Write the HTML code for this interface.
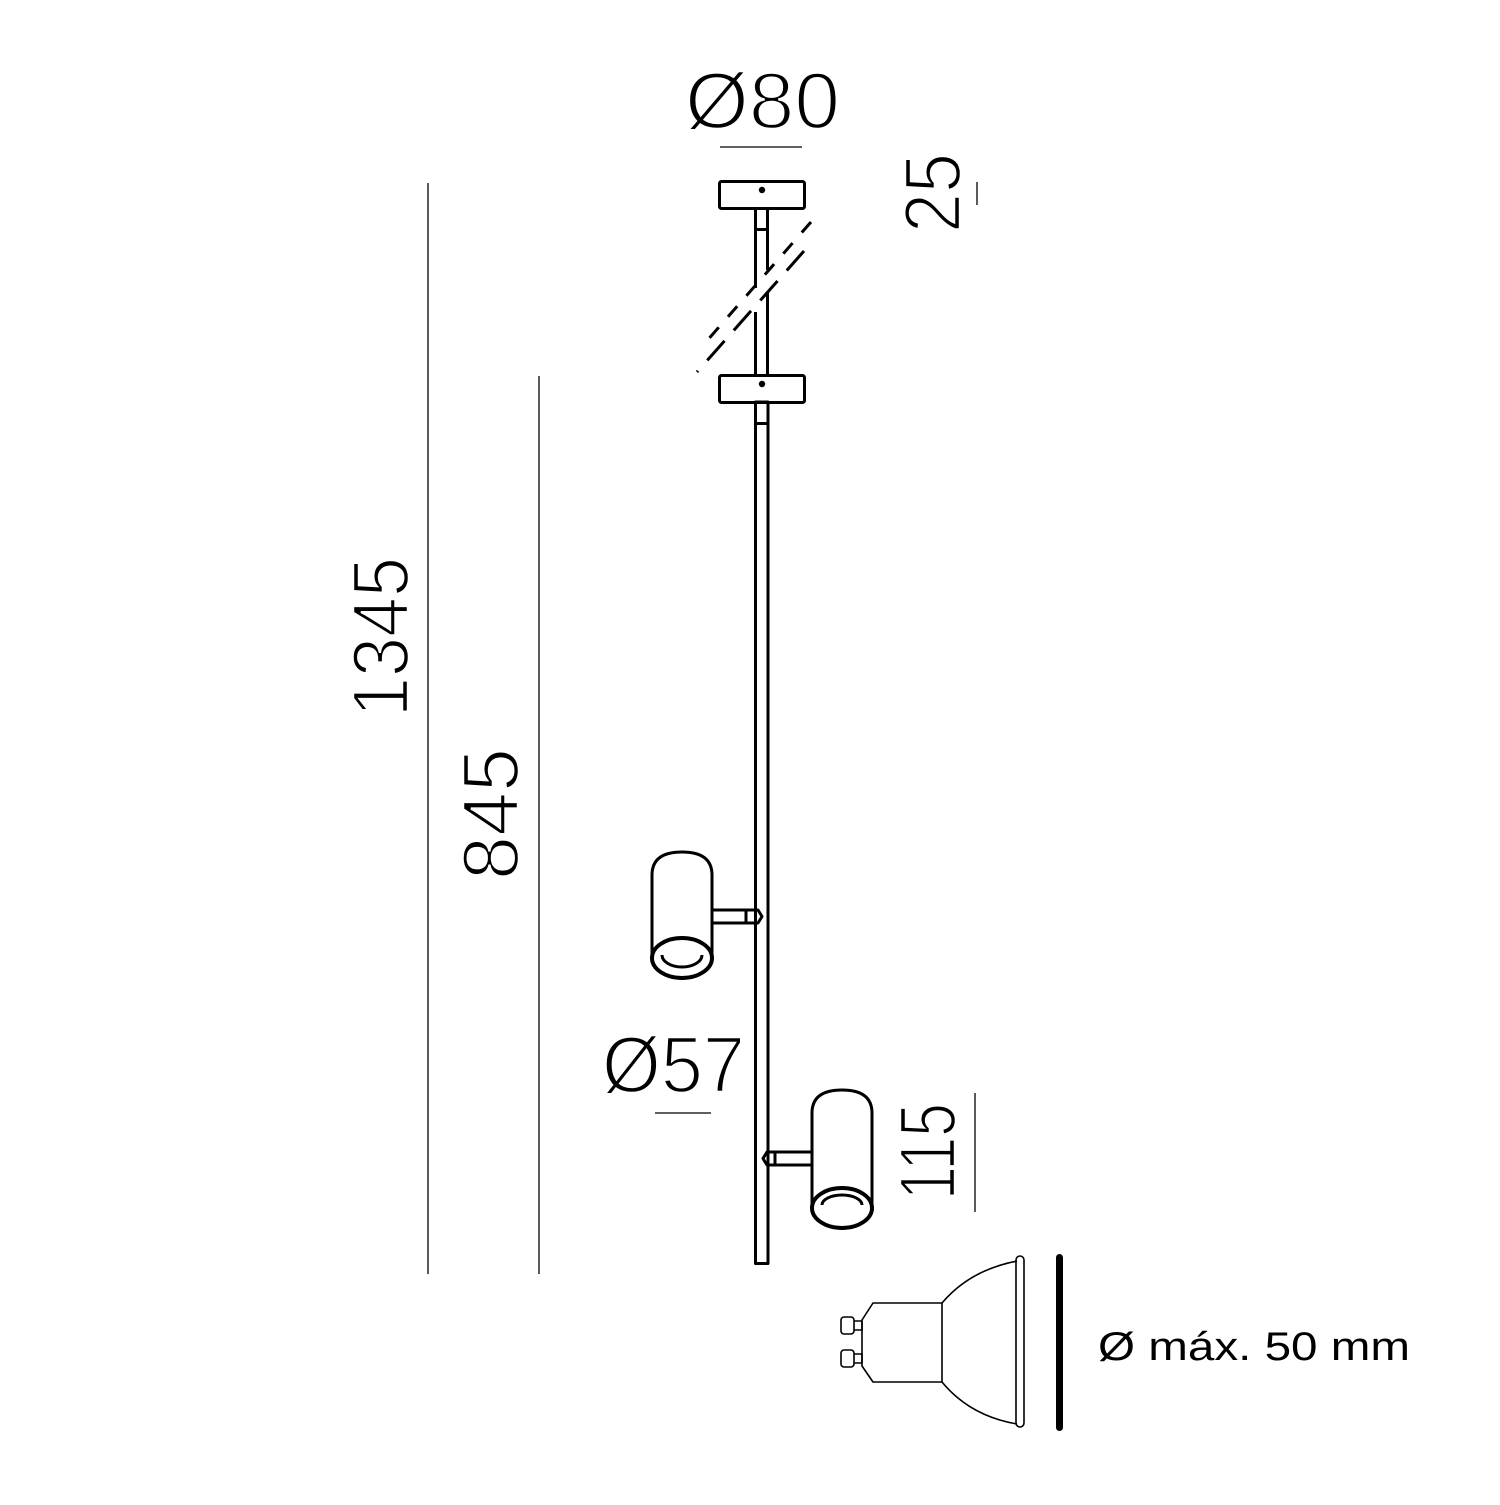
<!DOCTYPE html>
<html><head><meta charset="utf-8"><style>html,body{margin:0;padding:0;background:#fff}</style></head><body>
<svg width="1500" height="1500" viewBox="0 0 1500 1500" xmlns="http://www.w3.org/2000/svg">
<g fill="none" stroke="#000" stroke-width="1.3">
<line x1="428" y1="183" x2="428" y2="1274"/>
<line x1="539" y1="376" x2="539" y2="1274"/>
<line x1="975" y1="1093" x2="975" y2="1212"/>
<line x1="720" y1="147" x2="802" y2="147"/>
<line x1="655" y1="1113" x2="711" y2="1113"/>
<line x1="977" y1="182" x2="977" y2="205"/>
</g>
<g fill="none" stroke="#000" stroke-width="3" stroke-linejoin="round">
<rect x="719.5" y="181.5" width="85" height="27" rx="2"/>
<rect x="719.5" y="375.5" width="85" height="27" rx="2"/>
<line x1="755.5" y1="208" x2="755.5" y2="288"/>
<line x1="755.5" y1="312" x2="755.5" y2="375"/>
<line x1="767.5" y1="208" x2="767.5" y2="270"/>
<line x1="767.5" y1="292" x2="767.5" y2="375"/>
<line x1="755" y1="229.5" x2="768" y2="229.5"/>
<line x1="811" y1="222" x2="705" y2="343" stroke-dasharray="14 14"/>
<line x1="804" y1="251" x2="697" y2="372" stroke-dasharray="26 14"/>
<rect x="755.5" y="402" width="12.5" height="861.5"/>
<line x1="755" y1="423.5" x2="768" y2="423.5"/>
<path d="M652 958 V875 Q652 852 682 852 Q712 852 712 875 V958"/>
<path d="M712 910 H746 L746 923 H712"/>
<path d="M746 910 H758 L762 916.5 L758 923 H746"/>
<ellipse cx="682" cy="958" rx="30" ry="20" stroke-width="4"/>
<path d="M662 955 A20 12 0 0 0 702 955"/>
<path d="M812 1207 V1113 Q812 1090 842 1090 Q872 1090 872 1113 V1207"/>
<path d="M812 1152 H775 V1165 H812"/>
<path d="M775 1152 H767 L763 1158.5 L767 1165 H775"/>
<ellipse cx="842" cy="1208" rx="30" ry="20" stroke-width="4"/>
<path d="M822 1205 A20 10 0 0 1 862 1205"/>
</g>
<circle cx="762" cy="190" r="3.2" fill="#000"/>
<circle cx="762" cy="384" r="3.2" fill="#000"/>
<g fill="none" stroke="#000" stroke-width="1.6" stroke-linejoin="round">
<rect x="841" y="1317" width="13" height="17" rx="3"/>
<rect x="841" y="1350" width="13" height="17" rx="3"/>
<path d="M854 1321 H862 V1330 H854 M854 1354 H862 V1363 H854"/>
<path d="M862 1320 L873 1303 H942 V1382 H873 L862 1366 Z"/>
<path d="M942 1303 Q970 1270 1017 1261 M942 1382 Q970 1416 1017 1424"/>
<rect x="1016" y="1256" width="8" height="171" rx="4"/>
</g>
<rect x="1056" y="1254" width="7" height="177" rx="3.5" fill="#000"/>
<g font-family="Liberation Sans, sans-serif" fill="#000" stroke="#fff" stroke-width="2.4" font-size="80" paint-order="normal">
<text x="685" y="128" textLength="155" lengthAdjust="spacingAndGlyphs">Ø80</text>
<text x="602" y="1092" textLength="143" lengthAdjust="spacingAndGlyphs">Ø57</text>
<text transform="translate(408,717) rotate(-90)" textLength="160" lengthAdjust="spacingAndGlyphs">1345</text>
<text transform="translate(518,880) rotate(-90)" textLength="132" lengthAdjust="spacingAndGlyphs">845</text>
<text transform="translate(955,1200) rotate(-90)" textLength="97" lengthAdjust="spacingAndGlyphs">115</text>
<text transform="translate(960,233) rotate(-90)" textLength="80" lengthAdjust="spacingAndGlyphs">25</text>
</g>
<text x="1098" y="1360" font-family="Liberation Sans, sans-serif" font-size="40" textLength="312" lengthAdjust="spacingAndGlyphs">Ø máx. 50 mm</text>
</svg>
</body></html>
